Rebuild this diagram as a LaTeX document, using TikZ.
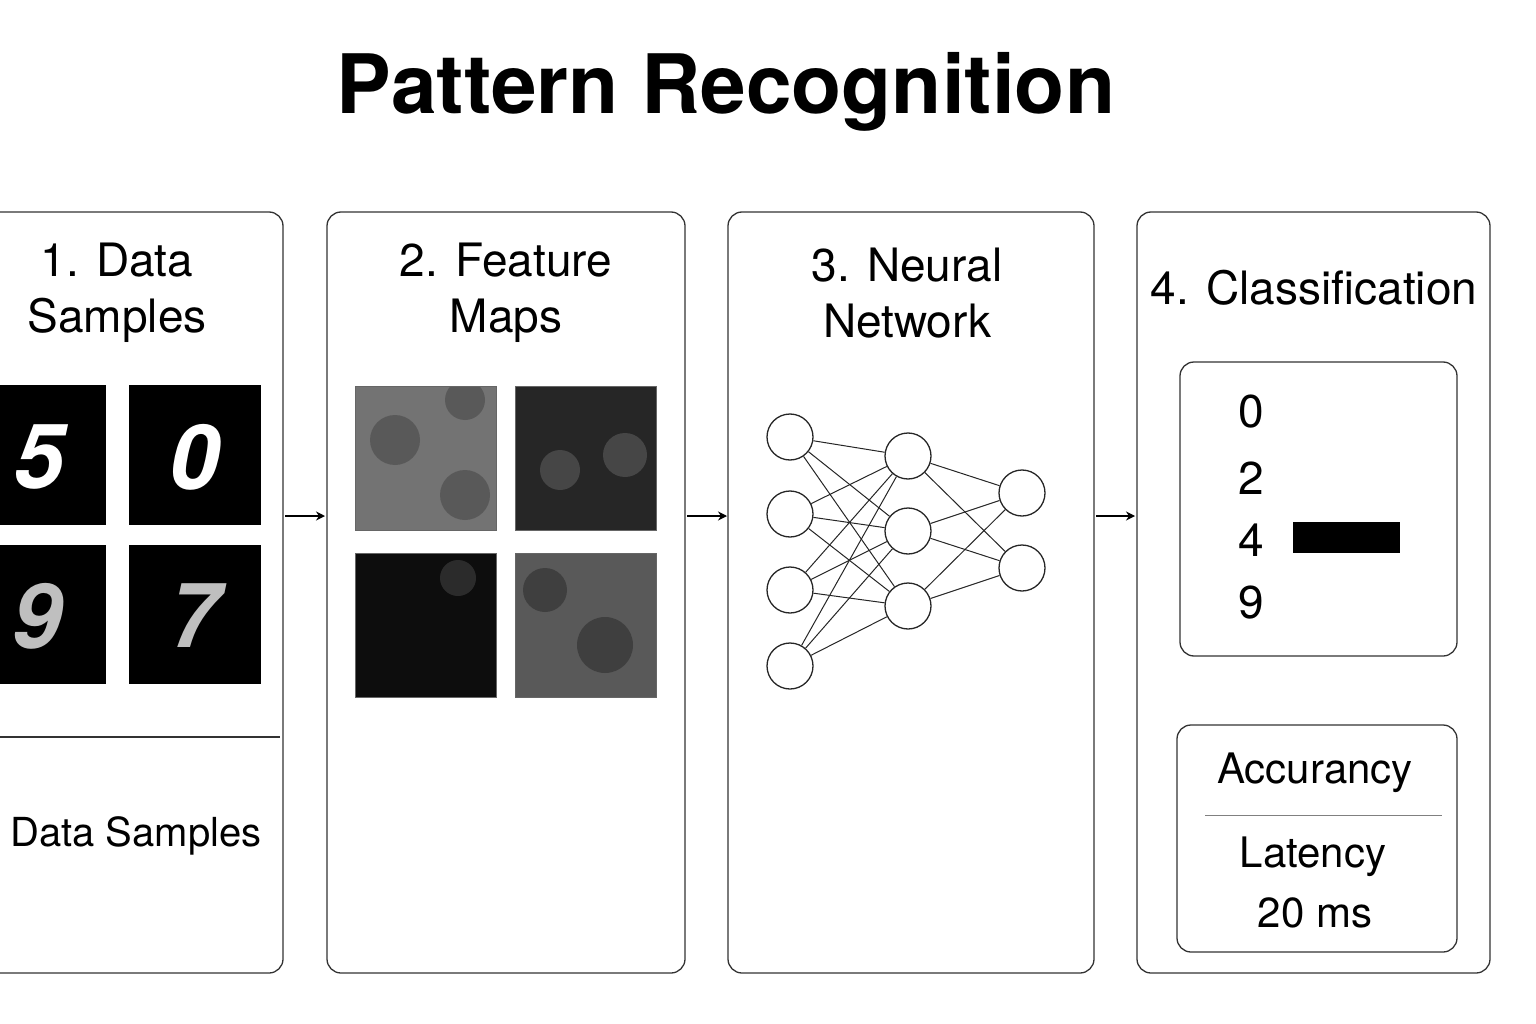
\documentclass[tikz,border=0pt]{standalone}
\usepackage{fontspec}
\setmainfont{TeX Gyre Heros}
\usetikzlibrary{positioning,arrows.meta}
\tikzset{
  panel/.style={draw=black!80, line width=1.3pt, rounded corners=14pt},
  head/.style={font=\fontsize{46}{56}\selectfont, align=center},
  digit/.style={font=\fontsize{90}{90}\selectfont\itshape\bfseries},
  neuron/.style={circle, draw=black!85, line width=1.3pt, minimum size=46pt, inner sep=0pt},
  link/.style={draw=black!85, line width=1pt},
  flow/.style={-{Stealth[length=9pt,width=9pt]}, line width=2pt},
  fmap/.style={draw=black!60, line width=0.8pt},
}
\begin{document}
\begin{tikzpicture}[x=1pt,y=-1pt]
\useasboundingbox (0,0) rectangle (1536,1024);
% title
\node[font=\fontsize{82}{90}\selectfont\bfseries] (title) at (726,92) {Pattern Recognition};
% panels
\draw[panel] (-20,212) rectangle (283,973);
\draw[panel] (327,212) rectangle (685,973);
\draw[panel] (728,212) rectangle (1094,973);
\draw[panel] (1137,212) rectangle (1490,973);
\node[head] (h1) at (117,293) {1. Data\\Samples};
\node[head] (h2) at (506,293) {2. Feature\\Maps};
\node[head] (h3) at (907,293) {3. Neural\\Network};
\node[head] (h4) at (1314,288) {4. Classification};
% arrows between panels
\coordinate (a1) at (285,516); \coordinate (b1) at (325,516);
\coordinate (a2) at (687,516); \coordinate (b2) at (727,516);
\coordinate (a3) at (1096,516); \coordinate (b3) at (1135,516);
\draw[flow] (a1) -- (b1);
\draw[flow] (a2) -- (b2);
\draw[flow] (a3) -- (b3);
% data samples
\fill[black] (0,385) rectangle (106,525);
\fill[black] (129,385) rectangle (261,525);
\fill[black] (0,545) rectangle (106,684);
\fill[black] (129,545) rectangle (261,684);
\node[digit, white] (d5) at (40,457) {5};
\node[digit, white] (d0) at (195,457) {0};
\node[digit, white!75!black] (d9) at (38,616) {9};
\node[digit, white!75!black] (d7) at (195,616) {7};
\draw[black!80, line width=1.3pt] (0,737) -- (280,737);
\node[font=\fontsize{40}{48}\selectfont] (ds) at (136,836) {Data Samples};
% feature maps
\fill[fmap, fill=black!55] (355,386) rectangle (496,530);
\fill[fmap, fill=black!85] (515,386) rectangle (656,530);
\fill[fmap, fill=black!95] (355,553) rectangle (496,697);
\fill[fmap, fill=black!65] (515,553) rectangle (656,697);
\begin{scope}
\clip (355,386) rectangle (496,530);
\fill[black!75, opacity=0.5] (395,440) circle (25pt);
\fill[black!75, opacity=0.5] (465,400) circle (20pt);
\fill[black!75, opacity=0.5] (465,495) circle (25pt);
\end{scope}
\begin{scope}
\clip (515,386) rectangle (656,530);
\fill[black!60, opacity=0.5] (560,470) circle (20pt);
\fill[black!60, opacity=0.5] (625,455) circle (22pt);
\end{scope}
\begin{scope}
\clip (355,553) rectangle (496,697);
\fill[black!75, opacity=0.6] (458,578) circle (18pt);
\end{scope}
\begin{scope}
\clip (515,553) rectangle (656,697);
\fill[black!85, opacity=0.5] (545,590) circle (22pt);
\fill[black!85, opacity=0.5] (605,645) circle (28pt);
\end{scope}
\draw[fmap] (355,386) rectangle (496,530) (515,386) rectangle (656,530)
  (355,553) rectangle (496,697) (515,553) rectangle (656,697);
% neural network
\foreach \i/\y in {1/437,2/514,3/590,4/666} \node[neuron] (in\i) at (790,\y) {};
\foreach \i/\y in {1/456,2/531,3/606} \node[neuron] (hid\i) at (908,\y) {};
\foreach \i/\y in {1/493,2/568} \node[neuron] (out\i) at (1022,\y) {};
\foreach \i in {1,...,4} \foreach \j in {1,...,3} \draw[link] (in\i) -- (hid\j);
\foreach \j in {1,...,3} \foreach \k in {1,2} \draw[link] (hid\j) -- (out\k);
% classification
\draw[panel] (1180,362) rectangle (1457,656);
\foreach \d/\y in {0/412,2/478,4/540,9/603}
  \node[font=\fontsize{46}{50}\selectfont] (c\d) at (1251,\y) {\d};
\fill[black] (1293,522) rectangle (1400,553);
\draw[panel] (1177,725) rectangle (1457,952);
\node[font=\fontsize{42}{50}\selectfont] (acc) at (1315,773) {Accurancy};
\draw[black!50, line width=1pt] (1205,815) -- (1442,815);
\node[font=\fontsize{42}{50}\selectfont] (lat) at (1313,857) {Latency};
\node[font=\fontsize{42}{50}\selectfont] (ms) at (1315,913) {20 ms};
\end{tikzpicture}
\end{document}
